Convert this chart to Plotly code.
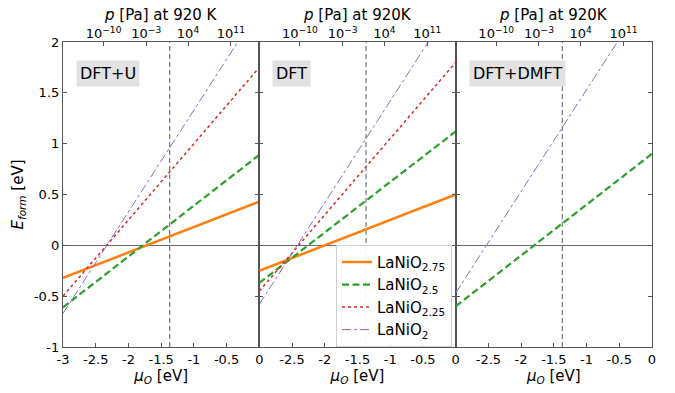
import plotly.graph_objects as go

# ---- data ----
mu_O = [-3.0, 0.0]
panel_names = ["DFT+U", "DFT", "DFT+DMFT"]
series_names = ["LaNiO<sub>2.75</sub>", "LaNiO<sub>2.5</sub>", "LaNiO<sub>2.25</sub>", "LaNiO<sub>2</sub>"]

# formation energy at mu_O = -3 and mu_O = 0 (eV)
e_dftu = [[-0.32, 0.43], [-0.61, 0.89], [-0.50, 1.75], [-0.67, 2.33]]
e_dft = [[-0.25, 0.50], [-0.37, 1.12], [-0.45, 1.80], [-0.58, 2.42]]
e_dmft = [None, [-0.60, 0.90], None, [-0.47, 2.53]]
panel_data = [e_dftu, e_dft, e_dmft]

mu_vline = -1.37
x_tickvals = [-3, -2.5, -2, -1.5, -1, -0.5, 0]
x_ticktext_first = ["-3", "-2.5", "-2", "-1.5", "-1", "-0.5", "0"]
x_ticktext_other = ["", "-2.5", "-2", "-1.5", "-1", "-0.5", "0"]
y_tickvals = [-1, -0.5, 0, 0.5, 1, 1.5, 2]
y_ticktext = ["-1", "-0.5", "0", "0.5", "1", "1.5", "2"]
p_tick_mu = [-2.38, -1.727, -1.09, -0.435]
p_tick_text = ["10<sup>−10</sup>", "10<sup>−3</sup>", "10<sup>4</sup>", "10<sup>11</sup>"]
top_titles = ["<i>p</i> [Pa] at 920 K", "<i>p</i> [Pa] at 920K", "<i>p</i> [Pa] at 920K"]

# ---- styles ----
colors = ["#ff7f0e", "#2ca02c", "#d62728", "#9467bd"]
dashes = ["solid", "7px,3.5px", "dot", "dashdot"]
widths = [2.5, 2.2, 1.5, 1.0]
FONT = "DejaVu Sans"
AX = "#555555"

fig = go.Figure()
layout = dict(
    width=675, height=393,
    margin=dict(l=63, r=23, t=42, b=46, autoexpand=False),
    paper_bgcolor="white", plot_bgcolor="white",
    font=dict(family=FONT, size=13, color="black"),
    shapes=[], annotations=[],
)

for i in range(3):
    n = i + 1
    xs = "x" if n == 1 else f"x{n}"
    ys = "y" if n == 1 else f"y{n}"
    xt = f"x{n + 3}"
    dom = [i / 3, (i + 1) / 3]
    layout["xaxis" if n == 1 else f"xaxis{n}"] = dict(
        domain=dom, range=[-3, 0], anchor=ys, automargin=False,
        tickvals=x_tickvals, ticktext=x_ticktext_first if n == 1 else x_ticktext_other,
        ticks="inside", ticklen=4, tickcolor=AX, showline=True, linecolor=AX, linewidth=1.2,
        mirror=True, showgrid=False, zeroline=False,
        title=dict(text="<i>μ<sub>O</sub></i> [eV]", font=dict(size=15), standoff=4),
        tickfont=dict(size=13),
    )
    layout["yaxis" if n == 1 else f"yaxis{n}"] = dict(
        domain=[0, 1], range=[-1, 2], anchor=xs, automargin=False,
        tickvals=y_tickvals, ticktext=y_ticktext if n == 1 else [""] * len(y_tickvals),
        ticks="inside", ticklen=4, tickcolor=AX, showline=True, linecolor=AX, linewidth=1.2,
        mirror="ticks", showgrid=False,
        zeroline=True, zerolinecolor="#6a6a6a", zerolinewidth=1.2,
        title=dict(text="<i>E<sub>form</sub></i> [eV]" if n == 1 else "", font=dict(size=15), standoff=6),
        tickfont=dict(size=13),
    )
    layout[f"xaxis{n + 3}"] = dict(
        overlaying=xs, anchor=ys, side="top", range=[-3, 0], automargin=False,
        tickvals=p_tick_mu, ticktext=p_tick_text,
        ticks="inside", ticklen=4, tickcolor=AX, showline=False, showgrid=False, zeroline=False,
        tickfont=dict(size=13),
    )
    # invisible trace so the top axis is rendered
    fig.add_trace(go.Scatter(x=mu_O, y=[0, 0], xaxis=xt, yaxis=ys, mode="lines",
                             opacity=0, showlegend=False, hoverinfo="skip"))
    for k, vals in enumerate(panel_data[i]):
        if vals is None:
            continue
        fig.add_trace(go.Scatter(
            x=mu_O, y=vals, xaxis=xs, yaxis=ys, mode="lines",
            line=dict(color=colors[k], dash=dashes[k], width=widths[k]),
            name=series_names[k], showlegend=(i == 1), legendrank=k + 1,
        ))
    layout["shapes"].append(dict(
        type="line", xref=xs, yref=f"{ys} domain", x0=mu_vline, x1=mu_vline, y0=0, y1=1,
        line=dict(color="#777777", width=1.2, dash="5px,3px"), layer="above",
    ))
    layout["annotations"].append(dict(
        text=panel_names[i], xref=xs, yref=ys, x=-2.8, y=1.82,
        xanchor="left", yanchor="top", showarrow=False,
        font=dict(size=16, color="black"), bgcolor="#e2e2e2", borderpad=3,
    ))
    layout["annotations"].append(dict(
        text=top_titles[i], xref="paper", yref="paper", x=(i + 0.5) / 3, y=1,
        xanchor="center", yanchor="middle", yshift=27, showarrow=False,
        font=dict(size=15, color="black"),
    ))

layout["legend"] = dict(
    x=0.4635, y=0.335, xanchor="left", yanchor="top",
    bgcolor="rgba(255,255,255,0.9)", bordercolor="#d0d0d0", borderwidth=1,
    font=dict(size=15), tracegroupgap=0, itemwidth=30,
)
fig.update_layout(**layout)
fig.write_html("out.html", config={"displayModeBar": False},
               post_script="document.body.style.margin='0';")
